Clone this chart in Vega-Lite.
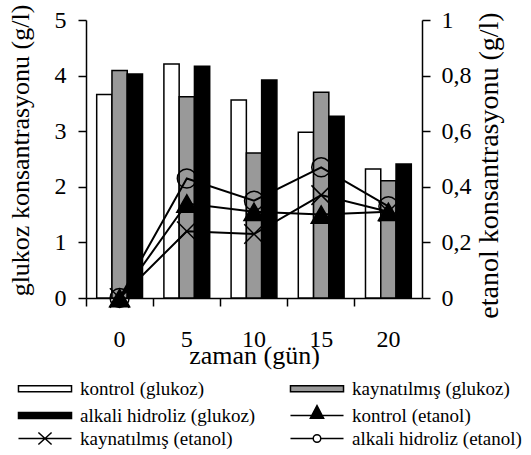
{
  "$schema": "https://vega.github.io/schema/vega-lite/v6.json",
  "width": 336,
  "height": 278,
  "autosize": "none",
  "padding": {"left": 86, "top": 20, "right": 109, "bottom": 157},
  "background": "white",
  "config": {
    "view": {"stroke": null},
    "font": "Liberation Serif",
    "axis": {
      "labelFont": "Liberation Serif",
      "titleFont": "Liberation Serif",
      "labelColor": "black",
      "titleColor": "black",
      "titleFontWeight": "normal",
      "domainColor": "black",
      "tickColor": "black",
      "domainWidth": 1.5,
      "tickWidth": 1.5,
      "grid": false,
      "labelFontSize": 24,
      "titleFontSize": 26,
      "tickSize": 8
    }
  },
  "datasets": {
    "glukoz": [
      {"zaman": 0, "seri": "kontrol (glukoz)", "deger": 3.66},
      {"zaman": 0, "seri": "kaynatılmış (glukoz)", "deger": 4.09},
      {"zaman": 0, "seri": "alkali hidroliz (glukoz)", "deger": 4.03},
      {"zaman": 5, "seri": "kontrol (glukoz)", "deger": 4.21},
      {"zaman": 5, "seri": "kaynatılmış (glukoz)", "deger": 3.62},
      {"zaman": 5, "seri": "alkali hidroliz (glukoz)", "deger": 4.17},
      {"zaman": 10, "seri": "kontrol (glukoz)", "deger": 3.56},
      {"zaman": 10, "seri": "kaynatılmış (glukoz)", "deger": 2.61},
      {"zaman": 10, "seri": "alkali hidroliz (glukoz)", "deger": 3.92},
      {"zaman": 15, "seri": "kontrol (glukoz)", "deger": 2.98},
      {"zaman": 15, "seri": "kaynatılmış (glukoz)", "deger": 3.70},
      {"zaman": 15, "seri": "alkali hidroliz (glukoz)", "deger": 3.27},
      {"zaman": 20, "seri": "kontrol (glukoz)", "deger": 2.32},
      {"zaman": 20, "seri": "kaynatılmış (glukoz)", "deger": 2.11},
      {"zaman": 20, "seri": "alkali hidroliz (glukoz)", "deger": 2.41}
    ],
    "etanol": [
      {"zaman": 0, "seri": "kontrol (etanol)", "deger": 0},
      {"zaman": 5, "seri": "kontrol (etanol)", "deger": 0.34},
      {"zaman": 10, "seri": "kontrol (etanol)", "deger": 0.31},
      {"zaman": 15, "seri": "kontrol (etanol)", "deger": 0.30},
      {"zaman": 20, "seri": "kontrol (etanol)", "deger": 0.31},
      {"zaman": 0, "seri": "kaynatılmış (etanol)", "deger": 0},
      {"zaman": 5, "seri": "kaynatılmış (etanol)", "deger": 0.24},
      {"zaman": 10, "seri": "kaynatılmış (etanol)", "deger": 0.23},
      {"zaman": 15, "seri": "kaynatılmış (etanol)", "deger": 0.37},
      {"zaman": 20, "seri": "kaynatılmış (etanol)", "deger": 0.31},
      {"zaman": 0, "seri": "alkali hidroliz (etanol)", "deger": 0},
      {"zaman": 5, "seri": "alkali hidroliz (etanol)", "deger": 0.43},
      {"zaman": 10, "seri": "alkali hidroliz (etanol)", "deger": 0.35},
      {"zaman": 15, "seri": "alkali hidroliz (etanol)", "deger": 0.47},
      {"zaman": 20, "seri": "alkali hidroliz (etanol)", "deger": 0.33}
    ]
  },
  "encoding": {
    "x": {
      "field": "zaman",
      "type": "ordinal",
      "title": "zaman (gün)",
      "scale": {"paddingInner": 0, "paddingOuter": 0},
      "axis": {
        "bandPosition": 0,
        "labelAngle": 0,
        "labelOffset": 0,
        "labelPadding": 21,
        "titleY": 65,
        "titleBaseline": "alphabetic",
        "titleFontSize": 26
      }
    }
  },
  "layer": [
    {
      "data": {"name": "glukoz"},
      "mark": {"type": "bar", "stroke": "black", "strokeWidth": 1.5, "opacity": 1},
      "encoding": {
        "xOffset": {
          "field": "seri",
          "type": "nominal",
          "scale": {
            "domain": ["kontrol (glukoz)", "kaynatılmış (glukoz)", "alkali hidroliz (glukoz)"],
            "paddingInner": 0,
            "paddingOuter": 0.7
          }
        },
        "y": {
          "field": "deger",
          "type": "quantitative",
          "stack": null,
          "title": "glukoz konsantrasyonu (g/l)",
          "scale": {"domain": [0, 5], "nice": false},
          "axis": {
            "values": [0, 1, 2, 3, 4, 5],
            "labelPadding": 12,
            "titleAngle": 270,
            "titleX": -58,
            "titleY": 130,
            "titleBaseline": "alphabetic",
            "titleAlign": "center",
            "titleFontSize": 26
          }
        },
        "fill": {
          "field": "seri",
          "type": "nominal",
          "scale": {
            "domain": ["kontrol (glukoz)", "alkali hidroliz (glukoz)", "kaynatılmış (etanol)", "kaynatılmış (glukoz)", "kontrol (etanol)", "alkali hidroliz (etanol)"],
            "range": ["white", "black", "transparent", "#999999", "black", "transparent"]
          },
          "legend": {
            "title": null,
            "orient": "none",
            "legendX": -68,
            "legendY": 359,
            "columns": 2,
            "columnPadding": 31,
            "rowPadding": 3,
            "symbolSize": 144,
            "symbolOffset": 17.5,
            "labelOffset": 25.5,
            "labelFont": "Liberation Serif",
            "labelFontSize": 19,
            "labelColor": "black",
            "labelLimit": 400,
            "padding": 0,
            "symbolStrokeWidth": 1.5,
            "symbolStrokeColor": "black",
            "symbolType": {"expr": "datum.value === 'kontrol (etanol)' ? 'M-4.42,0H4.42M-1.1,0.45L0,-1.65L1.1,0.45Z' : datum.value === 'kaynatılmış (etanol)' ? 'M-4.42,0H4.42M-1.1,-1L1.1,1M-1.1,1L1.1,-1' : datum.value === 'alkali hidroliz (etanol)' ? 'M-4.42,0H-0.63M0.63,0H4.42M-0.63,0A0.63,0.63,0,1,1,0.63,0A0.63,0.63,0,1,1,-0.63,0Z' : 'M-4.42,-0.5H4.42V0.5H-4.42Z'"}
          }
        }
      }
    },
    {
      "data": {"name": "etanol"},
      "encoding": {
        "y": {
          "field": "deger",
          "type": "quantitative",
          "title": "etanol konsantrasyonu (g/l)",
          "scale": {"domain": [0, 1], "nice": false},
          "axis": {
            "orient": "right",
            "values": [0, 0.2, 0.4, 0.6, 0.8, 1],
            "labelExpr": "replace(format(datum.value, ''), '.', ',')",
            "labelPadding": 11,
            "titleAngle": 270,
            "titleX": 75.5,
            "titleY": 145,
            "titleBaseline": "alphabetic",
            "titleAlign": "center",
            "titleFontSize": 28
          }
        }
      },
      "layer": [
        {
          "mark": {"type": "line", "stroke": "black", "strokeWidth": 2},
          "encoding": {
            "detail": {"field": "seri", "type": "nominal"}
          }
        },
        {
          "mark": {"type": "point", "stroke": "black", "strokeWidth": 1.5, "opacity": 1},
          "encoding": {
            "fill": {"field": "seri", "type": "nominal", "legend": null},
            "shape": {
              "field": "seri",
              "type": "nominal",
              "scale": {
                "domain": ["kontrol (etanol)", "kaynatılmış (etanol)", "alkali hidroliz (etanol)"],
                "range": ["triangle-up", "M-1,-1L1,1M-1,1L1,-1", "circle"]
              },
              "legend": null
            },
            "size": {
              "field": "seri",
              "type": "nominal",
              "scale": {
                "domain": ["kontrol (etanol)", "kaynatılmış (etanol)", "alkali hidroliz (etanol)"],
                "range": [400, 360, 201]
              },
              "legend": null
            }
          }
        }
      ]
    }
  ],
  "resolve": {"scale": {"y": "independent"}}
}
